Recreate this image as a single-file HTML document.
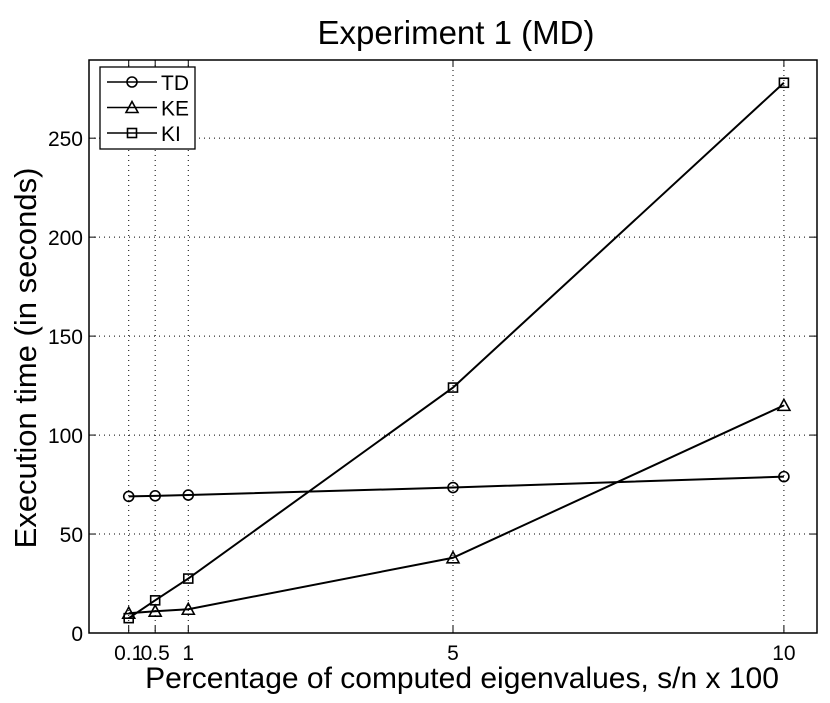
<!DOCTYPE html>
<html><head><meta charset="utf-8"><style>
body{margin:0;background:#fff}
text{font-family:"Liberation Sans",sans-serif}
</style></head><body>
<svg id="chart" width="830" height="698" xmlns="http://www.w3.org/2000/svg">
<rect width="830" height="698" fill="#fff"/>
<g id="grid"></g>
<g id="axes"></g>
<g id="series"></g>
<text x="456" y="44" font-size="33" text-anchor="middle">Experiment 1 (MD)</text>
<text x="462" y="688" font-size="30" text-anchor="middle">Percentage of computed eigenvalues, s/n x 100</text>
<text transform="translate(36,358) rotate(-90)" font-size="31" text-anchor="middle">Execution time (in seconds)</text>
<g id="legend"></g>
</svg>
<script>
const categories=[0.1,0.5,1,5,10];
const xTickLabels=["0.1","0.5","1","5","10"];
const yTicks=[0,50,100,150,200,250];
const seriesNames=["TD","KE","KI"];
const tdValues=[69,69.3,69.7,73.5,79];
const keValues=[10,11,12,38,115];
const kiValues=[7.5,16.5,27.5,124,278];
const L=89,R=817,T=60,B=633,XMIN=-0.5,XMAX=10.5,YMAX=289.5;
const xs=v=>L+(v-XMIN)/(XMAX-XMIN)*(R-L);
const ys=v=>B-v/YMAX*(B-T);
const NS="http://www.w3.org/2000/svg";
function mk(tag,attrs,parent){const e=document.createElementNS(NS,tag);for(const k in attrs)e.setAttribute(k,attrs[k]);parent.appendChild(e);return e;}
const grid=document.getElementById('grid'),axes=document.getElementById('axes'),ser=document.getElementById('series'),leg=document.getElementById('legend');
categories.forEach((c,i)=>{const x=xs(c);
 const g=mk('line',{x1:x,x2:x,y1:T,y2:B,stroke:'#000','stroke-width':1,'stroke-dasharray':'1,4'},grid);
 
 mk('line',{x1:x,x2:x,y1:B,y2:B-7,stroke:'#000'},axes);
 mk('line',{x1:x,x2:x,y1:T,y2:T+7,stroke:'#000'},axes);
 const t=mk('text',{x:x,y:B+27,'font-size':21,'text-anchor':'middle'},axes);t.textContent=xTickLabels[i];
 
});
yTicks.forEach(v=>{const y=ys(v);
 if(v>0){const g=mk('line',{x1:L,x2:R,y1:y,y2:y,stroke:'#000','stroke-width':1,'stroke-dasharray':'1,4'},grid);
 }
 mk('line',{x1:L,x2:L+7,y1:y,y2:y,stroke:'#000'},axes);
 mk('line',{x1:R,x2:R-7,y1:y,y2:y,stroke:'#000'},axes);
 const t=mk('text',{x:L-6,y:y+8,'font-size':21,'text-anchor':'end'},axes);t.textContent=v;
 
});
const box=mk('rect',{x:L,y:T,width:R-L,height:B-T,fill:'none',stroke:'#000','stroke-width':1.5},axes);

function marker(type,x,y,p){
 if(type==0)return mk('circle',{cx:x,cy:y,r:5,fill:'none',stroke:'#000','stroke-width':1.6},p);
 if(type==1)return mk('polygon',{points:`${x},${y-6} ${x-6},${y+5} ${x+6},${y+5}`,fill:'none',stroke:'#000','stroke-width':1.6},p);
 return mk('rect',{x:x-4.5,y:y-4.5,width:9,height:9,fill:'none',stroke:'#000','stroke-width':1.6},p);
}
[tdValues,keValues,kiValues].forEach((vals,si)=>{
 const g=mk('g',{},ser);
 
 mk('polyline',{points:vals.map((v,i)=>xs(categories[i])+','+ys(v)).join(' '),fill:'none',stroke:'#000','stroke-width':2},g);
 vals.forEach((v,i)=>{const m=marker(si,xs(categories[i]),ys(v),g);
  });
});
mk('rect',{x:100,y:67,width:95,height:82,fill:'#fff',stroke:'#000','stroke-width':1.3},leg);
seriesNames.forEach((n,i)=>{const y=82+i*25.5;
 const g=mk('g',{},leg);
 
 mk('line',{x1:107,x2:157,y1:y,y2:y,stroke:'#000','stroke-width':1.6},g);
 marker(i,132,y,g);
 const t=mk('text',{x:161,y:y+8,'font-size':21},g);t.textContent=n;
});
</script>
</body></html>
